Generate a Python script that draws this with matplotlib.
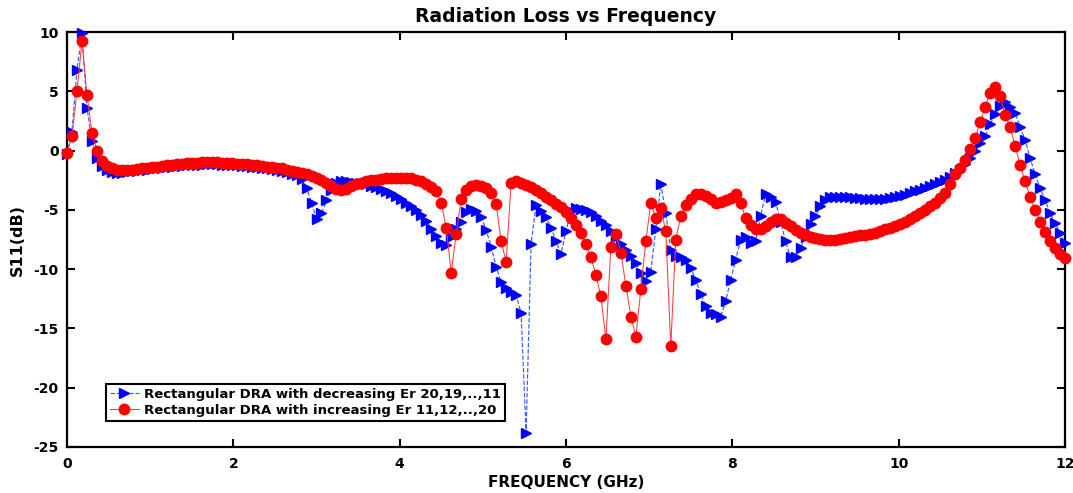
import numpy as np
import matplotlib
matplotlib.use("Agg")
import matplotlib.pyplot as plt

plt.rcParams['font.family'] = ['DejaVu Sans']
plt.rcParams['axes.unicode_minus'] = False

# Frequency sweep: 201 points, 0..12 GHz
freq = np.linspace(0, 12, 201)

s11_decreasing = [
    -0.3, 1.6, 6.8, 9.9, 3.6, 0.8, -0.6, -1.3, -1.65, -1.8,
    -1.85, -1.85, -1.8, -1.75, -1.7, -1.65, -1.6, -1.55, -1.5, -1.45,
    -1.4, -1.35, -1.3, -1.27, -1.24, -1.22, -1.2, -1.18, -1.17, -1.17,
    -1.17, -1.18, -1.2, -1.22, -1.25, -1.28, -1.32, -1.36, -1.4, -1.45,
    -1.5, -1.55, -1.6, -1.7, -1.8, -1.95, -2.1, -2.4, -3.15, -4.4,
    -5.8, -5.3, -4.2, -3.3, -2.75, -2.6, -2.6, -2.65, -2.7, -2.75,
    -2.85, -2.95, -3.1, -3.25, -3.4, -3.6, -3.85, -4.1, -4.4, -4.7,
    -5.0, -5.4, -5.9, -6.6, -7.2, -7.8, -8.0, -7.3, -6.6, -6.0,
    -5.2, -4.9, -5.1, -5.6, -6.7, -8.1, -9.8, -11.1, -11.6, -11.9,
    -12.15, -13.7, -23.8, -7.9, -4.6, -5.1, -5.6, -6.5, -7.65, -8.7,
    -6.8, -5.1, -4.85, -4.9, -5.0, -5.2, -5.5, -5.9, -6.3, -6.8,
    -7.3, -7.9, -8.4, -8.9, -9.5, -10.3, -11.0, -10.2, -6.6, -2.8,
    -5.3, -8.4, -8.9, -9.0, -9.2, -9.9, -10.9, -12.1, -13.1, -13.7,
    -13.8, -14.0, -12.7, -10.9, -9.2, -7.5, -7.3, -7.8, -7.6, -5.5,
    -3.7, -3.9, -4.3, -6.0, -7.65, -9.0, -9.0, -8.2, -7.3, -6.2,
    -5.5, -4.7, -4.2, -3.95, -3.9, -3.9, -3.9, -3.95, -4.0, -4.0,
    -4.05, -4.1, -4.1, -4.1, -4.05, -4.0, -3.95, -3.85, -3.75, -3.6,
    -3.45, -3.3, -3.15, -3.0, -2.85, -2.65, -2.45, -2.2, -1.9, -1.6,
    -1.15, -0.62, 0.0, 0.6, 1.2, 2.2, 3.1, 3.8, 4.1, 3.7,
    3.17, 2.0, 0.9, -0.6, -2.0, -3.15, -4.14, -5.26, -6.1, -6.95,
    -7.8,
]

s11_increasing = [
    -0.2, 1.2, 5.0, 9.2, 4.7, 1.5, 0.0, -0.9, -1.3, -1.5,
    -1.6, -1.65, -1.65, -1.6, -1.55, -1.5, -1.45, -1.4, -1.35, -1.3,
    -1.25, -1.2, -1.15, -1.1, -1.08, -1.05, -1.03, -1.0, -1.0, -1.0,
    -1.0, -1.02, -1.05, -1.08, -1.1, -1.12, -1.15, -1.2, -1.25, -1.3,
    -1.35, -1.4, -1.45, -1.5, -1.6, -1.7, -1.8, -1.9, -2.0, -2.15,
    -2.3, -2.5, -2.75, -3.0, -3.2, -3.3, -3.2, -3.0, -2.85, -2.7,
    -2.6, -2.5, -2.45, -2.4, -2.35, -2.3, -2.3, -2.3, -2.3, -2.35,
    -2.45, -2.6, -2.85, -3.1, -3.45, -4.4, -6.5, -10.3, -7.0, -4.1,
    -3.3, -3.0, -2.9, -2.95, -3.15, -3.6, -4.5, -7.6, -9.4, -2.7,
    -2.6, -2.7, -2.9, -3.1, -3.35, -3.6, -3.9, -4.2, -4.5, -4.8,
    -5.2, -5.7, -6.25, -6.95, -7.9, -9.0, -10.5, -12.3, -15.9, -8.1,
    -7.0, -8.6, -11.4, -14.0, -15.7, -11.7, -7.65, -4.4, -5.7, -4.85,
    -6.8, -16.5, -7.5, -5.55, -4.6, -4.1, -3.7, -3.65, -3.8, -4.1,
    -4.4, -4.35, -4.2, -4.0, -3.7, -4.4, -5.7, -6.25, -6.6, -6.6,
    -6.4, -6.0, -5.75, -5.8, -6.1, -6.4, -6.7, -6.95, -7.15, -7.3,
    -7.4, -7.45, -7.5, -7.5, -7.5, -7.45, -7.4, -7.3, -7.2, -7.15,
    -7.1, -7.0, -6.95, -6.8, -6.65, -6.5, -6.4, -6.2, -6.0, -5.8,
    -5.55, -5.3, -5.0, -4.7, -4.4, -4.0, -3.6, -2.8, -2.0, -1.47,
    -0.77, 0.13, 1.1, 2.4, 3.7, 4.85, 5.4, 4.6, 3.0, 2.0,
    0.4, -1.2, -2.6, -3.9, -5.0, -6.0, -6.9, -7.6, -8.2, -8.7,
    -9.1,
]

label_dec = "Rectangular DRA with decreasing Er 20,19,..,11"
label_inc = "Rectangular DRA with increasing Er 11,12,..,20"
x_ticks = [0, 2, 4, 6, 8, 10, 12]
y_ticks = [-25, -20, -15, -10, -5, 0, 5, 10]

fig = plt.figure(figsize=(10.73, 4.93), dpi=100)
ax = fig.add_axes([67/1073, 1-447/493, (1065-67)/1073, (447-32)/493])

ax.plot(freq, s11_decreasing, linestyle='--', color='#3a5cff', linewidth=0.85,
        marker='>', markersize=7.5, markerfacecolor='#0000ff',
        markeredgecolor='#0000ff', label=label_dec, clip_on=False, zorder=3)
ax.plot(freq, s11_increasing, linestyle='-', color='#ff3c3c', linewidth=0.75,
        marker='o', markersize=7.5, markerfacecolor='#ff0000',
        markeredgecolor='#ff0000', label=label_inc, clip_on=False, zorder=4)

ax.set_xlim(0, 12)
ax.set_ylim(-25, 10)
ax.set_xticks(x_ticks)
ax.set_yticks(y_ticks)
ax.tick_params(direction='in', length=6, width=1.5, top=True, right=True,
               labelsize=10)
ax.tick_params(axis='x', pad=7)
ax.tick_params(axis='y', pad=6)
for lab in ax.get_xticklabels() + ax.get_yticklabels():
    lab.set_fontweight('bold')
for sp in ax.spines.values():
    sp.set_linewidth(1.6)

ax.set_title("Radiation Loss vs Frequency", fontsize=13.5, fontweight='bold', pad=7)
ax.set_xlabel("FREQUENCY (GHz)", fontsize=11, fontweight='bold', labelpad=3)
ax.set_ylabel("S11(dB)", fontsize=11.5, fontweight='bold', labelpad=6)

leg = ax.legend(loc='lower left', bbox_to_anchor=(0.039, 0.063),
                borderaxespad=0, fancybox=False, framealpha=1,
                edgecolor='black', prop={'weight': 'bold', 'size': 9.5},
                handlelength=2.2, handletextpad=0.4, borderpad=0.3,
                labelspacing=0.25, markerscale=1.0)
leg.get_frame().set_linewidth(1.5)

fig.savefig("out.png", dpi=100)
